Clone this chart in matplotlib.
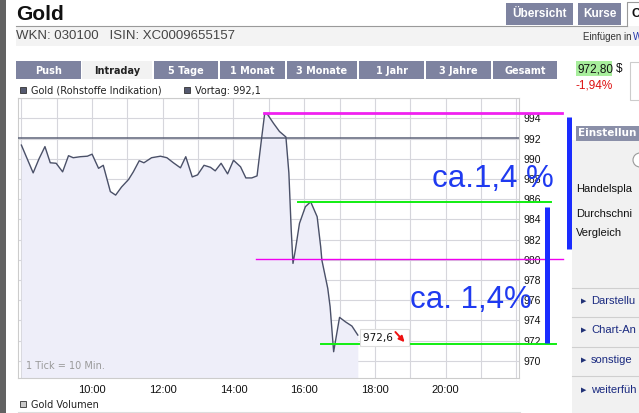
import matplotlib
matplotlib.use("Agg")
import matplotlib.pyplot as plt
from matplotlib.patches import Rectangle, Circle

# ---------------- data ----------------
times = ["08:00","08:20","08:30","08:40","08:49","08:59","09:10","09:20","09:28","09:40",
         "09:52","10:00","10:11","10:19","10:31","10:40","10:50","11:02","11:10","11:20",
         "11:28","11:41","11:56","12:07","12:18","12:30","12:39","12:50","12:59","13:10",
         "13:21","13:29","13:39","13:50","14:00","14:12","14:21","14:31","14:40","14:48",
         "14:53","14:57","15:08","15:18","15:29","15:34","15:38","15:41","15:45","15:52",
         "16:02","16:11","16:22","16:28","16:30","16:40","16:44","16:50","17:00","17:10",
         "17:21","17:31"]
prices = [991.35,988.6,990.0,991.2,989.6,989.55,988.7,990.3,990.1,990.2,
          990.25,990.45,989.05,989.35,986.75,986.4,987.2,987.95,988.7,989.8,
          989.6,990.1,990.25,990.1,989.6,989.1,990.2,988.2,988.4,989.35,
          989.15,988.8,989.55,988.5,989.85,989.2,988.1,988.1,988.3,992.15,
          994.5,994.45,993.5,992.7,992.15,988.6,982.94,979.64,980.96,983.6,
          985.25,985.74,984.26,981.29,979.97,977.17,975.35,970.9,974.3,973.86,
          973.44,972.55]
prev_close = 992.1
last_price_label = "972,6"
y_ticks = [970, 972, 974, 976, 978, 980, 982, 984, 986, 988, 990, 992, 994]
x_tick_labels = ["10:00", "12:00", "14:00", "16:00", "18:00", "20:00"]

# hand-drawn annotations (value levels, start/end times in hours)
pink_top = (994.55, 14.85, 23.29)
pink_mid = (980.04, 14.63, 23.31)
green_top = (985.68, 15.83, 22.97)
green_bot = (971.62, 16.48, 23.13)
blue_bar1 = (23.50, 981.03, 994.16)
blue_bar2 = (22.88, 971.72, 985.25)
ann_text1 = "ca.1,4 %"
ann_text2 = "ca. 1,4%"
tabs = ["Push", "Intraday", "5 Tage", "1 Monat", "3 Monate", "1 Jahr", "3 Jahre", "Gesamt"]

def to_h(s):
    h, m = s.split(":")
    return int(h) + int(m) / 60.0

hours = [to_h(t) for t in times]

W, H = 639, 413
fig = plt.figure(figsize=(W / 100, H / 100), dpi=100)
fig.patch.set_facecolor("white")

# background page overlay in pixel coordinates
bg = fig.add_axes([0, 0, 1, 1], zorder=0)
bg.set_xlim(0, W)
bg.set_ylim(H, 0)
bg.axis("off")

SANS = ["Liberation Sans", "DejaVu Sans"]
DV = ["DejaVu Sans"]

# left dark strip
bg.add_patch(Rectangle((0, 0), 6, H, color="#626262", lw=0))
# header
bg.text(16, 15, "Gold", fontsize=15, fontweight="bold", family=SANS, va="center", ha="left", color="#111111")
bg.add_patch(Rectangle((16, 26), 624, 20, color="#f3f3f3", lw=0))
bg.plot([16, 627], [25.5, 25.5], color="#9a9a9a", lw=0.8)
bg.text(16, 36, "WKN: 030100   ISIN: XC0009655157", fontsize=9.5, family=SANS, va="center", color="#444444")
bg.text(583, 37, "Einfügen in", fontsize=7, family=SANS, va="center", color="#333333")
bg.text(633, 37, "W", fontsize=7, family=SANS, va="center", color="#2233aa", clip_on=True)
# top-right tabs
bg.add_patch(Rectangle((506, 3), 67, 22, color="#7e83a0", lw=0))
bg.text(539.5, 14, "Übersicht", fontsize=8.5, fontweight="bold", family=SANS, color="white", ha="center", va="center")
bg.add_patch(Rectangle((578, 3), 43, 22, color="#7e83a0", lw=0))
bg.text(599.5, 14, "Kurse", fontsize=8.5, fontweight="bold", family=SANS, color="white", ha="center", va="center")
bg.plot([627, 627, 639], [25.5, 2, 2], color="#9a9a9a", lw=0.8)
bg.text(631, 14, "C", fontsize=9, fontweight="bold", family=SANS, color="#111111", ha="left", va="center",
        clip_on=True)

# chart tabs
tab_x = [(16, 81), (82, 152), (154, 218), (220, 285), (287, 357), (359, 424), (426, 491), (493, 557)]
for (x0, x1), name in zip(tab_x, tabs):
    sel = name == "Intraday"
    bg.add_patch(Rectangle((x0, 61), x1 - x0, 18, color="#f2f2f2" if sel else "#7e83a0", lw=0))
    bg.text((x0 + x1) / 2, 70.5, name, fontsize=7, fontweight="bold", family=DV,
            color="#222222" if sel else "white", ha="center", va="center")

# legend row
bg.add_patch(Rectangle((20, 87), 6, 6, facecolor="#555a70", edgecolor="#333333", lw=0.6))
bg.text(31, 90.5, "Gold (Rohstoffe Indikation)", fontsize=7, family=DV, va="center", color="#222222")
bg.add_patch(Rectangle((184, 87), 6, 6, facecolor="#555a70", edgecolor="#333333", lw=0.6))
bg.text(195, 90.5, "Vortag: " + f"{prev_close:.1f}".replace(".", ","), fontsize=7, family=DV, va="center", color="#222222")
# bottom legend
bg.add_patch(Rectangle((20, 401), 6, 6, facecolor="#c8c8c8", edgecolor="#333333", lw=0.6))
bg.text(31, 404.5, "Gold Volumen", fontsize=7, family=DV, va="center", color="#222222")
bg.plot([18, 520], [411.5, 411.5], color="#dddddd", lw=0.8)

# right info block
bg.add_patch(Rectangle((576, 61), 36, 15, color="#a8ee9c", lw=0))
bg.text(577, 69, "972,80", fontsize=8.5, family=SANS, va="center", color="#111111")
bg.text(616, 69, "$", fontsize=8.5, family=SANS, va="center", color="#111111")
bg.text(576, 86, "-1,94%", fontsize=8.5, family=SANS, va="center", color="#dd1111")
bg.add_patch(Rectangle((630, 62), 12, 38, facecolor="white", edgecolor="#cccccc", lw=0.8))
# settings panel
bg.add_patch(Rectangle((572, 140), 70, 273, color="#f1f1f1", lw=0))
bg.add_patch(Rectangle((576, 126), 66, 15, color="#8a8fa8", lw=0))
bg.text(578, 133.5, "Einstellun", fontsize=7.5, fontweight="bold", family=DV, color="white", va="center")
bg.add_patch(Circle((640, 160), 7, facecolor="white", edgecolor="#999999", lw=0.8))
for yy, t in [(189, "Handelspla"), (214, "Durchschni"), (233, "Vergleich")]:
    bg.text(576, yy, t, fontsize=8, family=SANS, va="center", color="#111111")
for yy in [288, 317, 347, 376]:
    bg.plot([572, 639], [yy, yy], color="#cfcfcf", lw=0.8)
for yy, t in [(301, "Darstellu"), (330, "Chart-An"), (360, "sonstige"), (390, "weiterfüh")]:
    bg.text(581, yy, "▶", fontsize=5, family=DV, va="center", color="#223377")
    bg.text(591, yy, t, fontsize=8, family=SANS, va="center", color="#1a2a80")

# ---------------- main chart ----------------
L, R, T, B = 18.3, 519.3, 98.1, 378.0
ax = fig.add_axes([L / W, 1 - B / H, (R - L) / W, (B - T) / H], zorder=2)
ax.set_facecolor("white")
xmin, xmax = 7.913, 22.085
ymin, ymax = 968.3, 996.0
ax.set_xlim(xmin, xmax)
ax.set_ylim(ymin, ymax)

ax.fill_between(hours, prices, ymin, color="#eeeef9", lw=0, zorder=1)
ax.set_xticks(list(range(8, 23)))
ax.set_xticklabels([f"{h}:00" if f"{h}:00" in x_tick_labels else "" for h in range(8, 23)],
                   fontsize=8, family=SANS)
ax.set_yticks(y_ticks + [996])
ax.set_yticklabels([str(v) for v in y_ticks] + [""], fontsize=7.5, family=SANS)
ax.grid(True, color="#d6d6dc", lw=0.8, zorder=0)
ax.set_axisbelow(True)
ax.yaxis.tick_right()
ax.tick_params(axis="both", length=0, colors="#111111")
ax.tick_params(axis="y", pad=3)
ax.tick_params(axis="x", pad=5)
for s in ax.spines.values():
    s.set_color("#cccccc")
    s.set_linewidth(0.8)

ax.axhline(prev_close, color="#5d6378", lw=1.1, zorder=3)
ax.plot(hours, prices, color="#4a5068", lw=1.0, zorder=4)

ax.text(0.016, 0.025, "1 Tick = 10 Min.", transform=ax.transAxes, fontsize=7, family=DV,
        color="#9a9a9a", ha="left", va="bottom")

# last price box
ax.text(hours[-1] + 0.14, 972.3, last_price_label + "    ", fontsize=7.5, family=DV,
        ha="left", va="center", color="#111111", zorder=6,
        bbox=dict(boxstyle="square,pad=0.3", facecolor="white", edgecolor="#dddddd", lw=0.8))
ax.annotate("", xy=(18.84, 971.85), xytext=(18.58, 972.85),
            arrowprops=dict(arrowstyle="-|>", color="#ee1111", lw=1.4, mutation_scale=8,
                            shrinkA=0, shrinkB=0), zorder=7)

# annotations
ax.plot([pink_top[1], pink_top[2]], [pink_top[0]] * 2, color="#f020f0", lw=2.0, clip_on=False, zorder=5)
ax.plot([pink_mid[1], pink_mid[2]], [pink_mid[0]] * 2, color="#f000f0", lw=1.0, clip_on=False, zorder=5)
ax.plot([green_top[1], green_top[2]], [green_top[0]] * 2, color="#11ee11", lw=1.4, clip_on=False, zorder=5)
ax.plot([green_bot[1], green_bot[2]], [green_bot[0]] * 2, color="#11ee11", lw=1.4, clip_on=False, zorder=5)
ax.plot([blue_bar1[0]] * 2, [blue_bar1[1], blue_bar1[2]], color="#1a2cff", lw=3.6, clip_on=False,
        solid_capstyle="butt", zorder=5)
ax.plot([blue_bar2[0]] * 2, [blue_bar2[1], blue_bar2[2]], color="#1a2cff", lw=3.6, clip_on=False,
        solid_capstyle="butt", zorder=5)
ax.text(19.61, 987.23, ann_text1, fontsize=22.5, family=SANS, color="#1f3af0", ha="left", va="baseline",
        clip_on=False, zorder=6)
ax.text(18.98, 975.19, ann_text2, fontsize=22.5, family=SANS, color="#1f3af0", ha="left", va="baseline",
        clip_on=False, zorder=6)

fig.savefig("out.png", dpi=100, facecolor="white")
